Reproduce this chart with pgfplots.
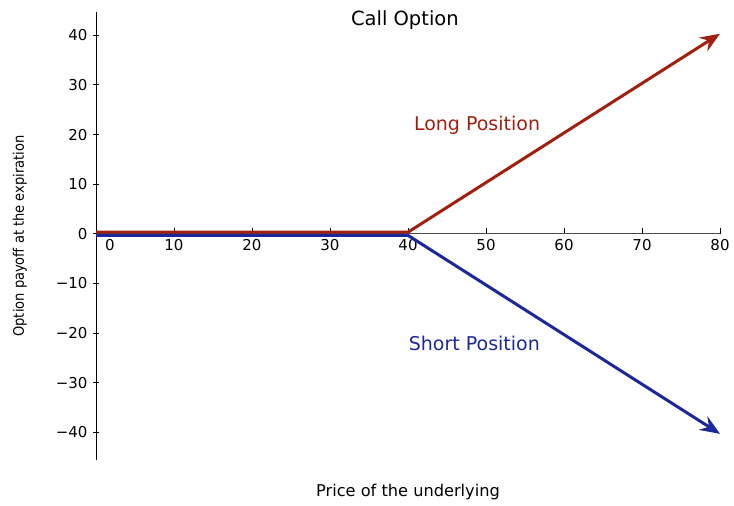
\documentclass[border=0pt]{standalone}
\usepackage{fontspec}
\setmainfont{DejaVu Sans}
\newfontfamily\condfont{DejaVu Sans Condensed}
\usepackage{pgfplots}
\pgfplotsset{compat=1.18}
\usetikzlibrary{arrows.meta}
\definecolor{longred}{RGB}{160,32,16}
\definecolor{shortblue}{RGB}{26,40,154}
\begin{document}
\begin{tikzpicture}
\begin{axis}[
  scale only axis,
  width=624bp, height=448bp,
  xmin=0, xmax=80, ymin=-45.6, ymax=44.7,
  axis lines=middle,
  axis line style={-, line width=0.9bp},
  x axis line style={draw=black!70},
  hide obscured x ticks=false, hide obscured y ticks=false,
  xtick={10,20,...,80},
  extra x ticks={0},
  extra x tick style={major tick length=0pt, xticklabel style={xshift=14bp}},
  ytick={-40,-30,...,40},
  yticklabels={−40,−30,−20,−10,0,10,20,30,40},
  major tick length=6bp,
  ytick align=center,
  xtick align=inside,
  tick style={black, line width=0.9bp},
  /pgf/number format/assume math mode=true,
  tick label style={font=\fontsize{15bp}{17bp}\selectfont},
  xticklabel style={yshift=-2bp},
  yticklabel style={xshift=-2bp},
  xlabel={Price of the underlying},
  ylabel={\condfont Option payoff at the expiration},
  xlabel style={at={(axis description cs:0.5,0)}, anchor=center, yshift=-32bp, font=\fontsize{16.2bp}{18bp}\selectfont},
  ylabel style={at={(axis description cs:-0.1218,0.5)}, anchor=center, rotate=90, font=\fontsize{14.5bp}{17bp}\selectfont},
  clip=false,
]
\addplot[shortblue, line width=3bp, yshift=-1.6bp, -{Stealth[length=20bp,width=16bp,inset=7bp]}] coordinates {(0,0) (40,0) (80,-40)};
\addplot[longred, line width=3bp, yshift=1.6bp, -{Stealth[length=20bp,width=16bp,inset=7bp]}] coordinates {(0,0) (40,0) (80,40)};
\node[font=\fontsize{19.5bp}{22bp}\selectfont] at (axis cs:39.6,43) {Call Option};
\node[font=\fontsize{19bp}{22bp}\selectfont, text=longred] at (axis cs:48.85,21.9) {Long Position};
\node[font=\fontsize{19bp}{22bp}\selectfont, text=shortblue] at (axis cs:48.5,-22.1) {Short Position};
\end{axis}
\pgfresetboundingbox
\path[use as bounding box] ([shift={(-96bp,-45bp)}]current axis.south west) rectangle ([shift={(14bp,12bp)}]current axis.north east);
\end{tikzpicture}
\end{document}
